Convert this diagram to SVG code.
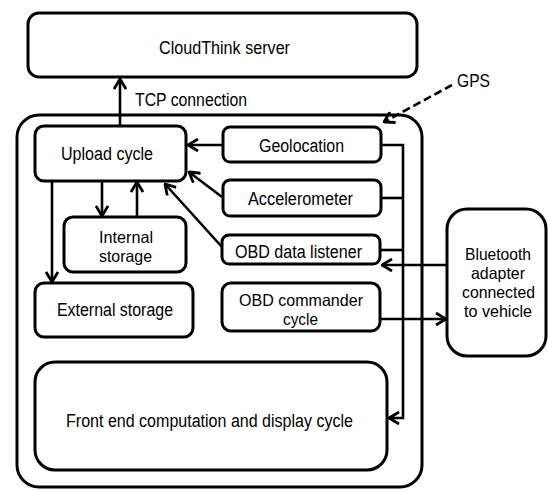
<svg xmlns="http://www.w3.org/2000/svg" width="548" height="491" viewBox="0 0 548 491">
<style>
.box{fill:#fff;stroke:#000;stroke-width:3}
.frame{fill:none;stroke:#000;stroke-width:3}
.c{fill:none;stroke:#000;stroke-width:2.6}
.d{fill:none;stroke:#000;stroke-width:2.6;stroke-dasharray:8 4}
text{font-family:"Liberation Sans",Arial,sans-serif;font-size:18px;fill:#000}
.m{font-size:16.5px}
</style>
<defs>
<marker id="ah" viewBox="0 0 12 14" refX="11" refY="7" markerWidth="12" markerHeight="14" markerUnits="userSpaceOnUse" orient="auto">
<path d="M1,1 L11,7 L1,13" fill="none" stroke="#000" stroke-width="2.8"/>
</marker>
</defs>
<rect width="548" height="491" fill="#fff"/>
<g id="container"><rect class="frame" x="17" y="115" width="405" height="372" rx="22"/></g>
<g id="cloudthink"><rect class="box" x="28" y="13" width="389" height="64" rx="11"/><text x="159" y="54" textLength="131" lengthAdjust="spacingAndGlyphs">CloudThink server</text></g>
<g id="upload"><rect class="box" x="35" y="126" width="151" height="55" rx="9"/><text x="61" y="159.5" textLength="92" lengthAdjust="spacingAndGlyphs">Upload cycle</text></g>
<g id="internal"><rect class="box" x="64" y="217" width="122" height="55" rx="9"/><text class="m" x="99" y="243" textLength="54" lengthAdjust="spacingAndGlyphs">Internal</text><text class="m" x="99" y="262" textLength="53" lengthAdjust="spacingAndGlyphs">storage</text></g>
<g id="external"><rect class="box" x="35" y="283" width="158" height="54" rx="9"/><text x="57" y="315.5" textLength="116" lengthAdjust="spacingAndGlyphs">External storage</text></g>
<g id="geolocation"><rect class="box" x="223" y="127" width="158" height="35" rx="7"/><text x="259" y="151.5" textLength="85" lengthAdjust="spacingAndGlyphs">Geolocation</text></g>
<g id="accelerometer"><rect class="box" x="223" y="180" width="158" height="36" rx="7"/><text x="248" y="204.5" textLength="105" lengthAdjust="spacingAndGlyphs">Accelerometer</text></g>
<g id="obdlistener"><rect class="box" x="222" y="235" width="158" height="29" rx="7"/><text x="235" y="257.5" textLength="127" lengthAdjust="spacingAndGlyphs">OBD data listener</text></g>
<g id="obdcommander"><rect class="box" x="222" y="283" width="158" height="48" rx="9"/><text class="m" x="239" y="305.5" textLength="124" lengthAdjust="spacingAndGlyphs">OBD commander</text><text class="m" x="283" y="324.5" textLength="35" lengthAdjust="spacingAndGlyphs">cycle</text></g>
<g id="frontend"><rect class="box" x="35" y="362" width="352" height="108" rx="20"/><text x="66" y="426.5" textLength="287" lengthAdjust="spacingAndGlyphs">Front end computation and display cycle</text></g>
<g id="bluetooth"><rect class="box" x="447" y="209" width="99" height="147" rx="20"/><text class="m" x="465" y="260" textLength="66" lengthAdjust="spacingAndGlyphs">Bluetooth</text><text class="m" x="471" y="279" textLength="54" lengthAdjust="spacingAndGlyphs">adapter</text><text class="m" x="462" y="298" textLength="73" lengthAdjust="spacingAndGlyphs">connected</text><text class="m" x="464" y="317" textLength="68" lengthAdjust="spacingAndGlyphs">to vehicle</text></g>
<g id="gps-label"><text x="457" y="86.5" textLength="33" lengthAdjust="spacingAndGlyphs">GPS</text></g>
<g id="connectors">
<path class="c" d="M120,126 V79" marker-end="url(#ah)"/>
<text x="135" y="106" textLength="112" lengthAdjust="spacingAndGlyphs">TCP connection</text>
<path class="d" d="M452,85 L384,122" marker-end="url(#ah)"/>
<path class="c" d="M223,145 H188" marker-end="url(#ah)"/>
<path class="c" d="M222,197 L189,172" marker-end="url(#ah)"/>
<path class="c" d="M222,247 L165,184" marker-end="url(#ah)"/>
<path class="c" d="M102,181 V216" marker-end="url(#ah)"/>
<path class="c" d="M137,217 V182" marker-end="url(#ah)"/>
<path class="c" d="M52,181 V282" marker-end="url(#ah)"/>
<path class="c" d="M381,145 H403 V418 H389" marker-end="url(#ah)"/>
<path class="c" d="M381,198 H403"/>
<path class="c" d="M380,250 H403"/>
<path class="c" d="M447,265 H382" marker-end="url(#ah)"/>
<path class="c" d="M380,319 H446" marker-end="url(#ah)"/>
</g>
</svg>
